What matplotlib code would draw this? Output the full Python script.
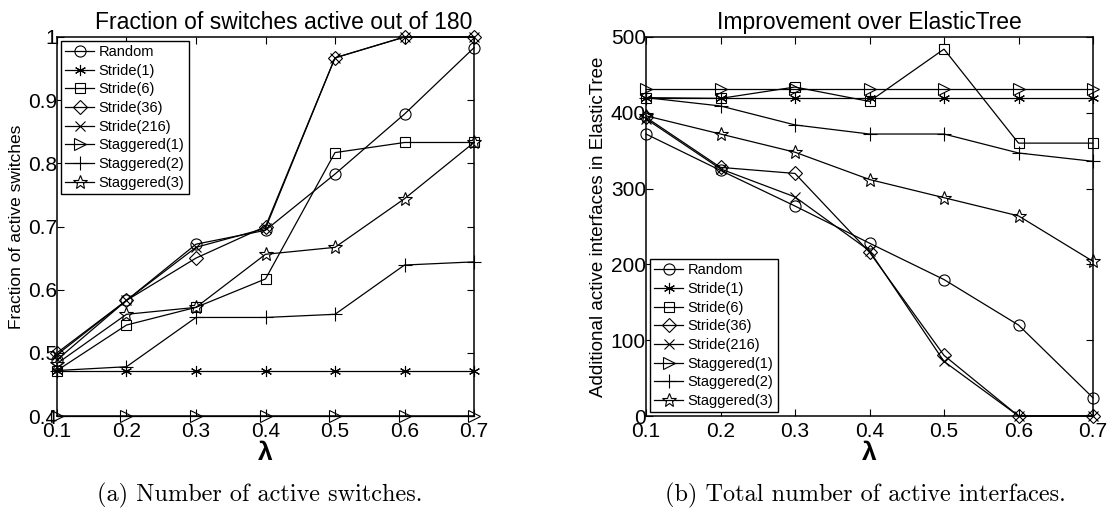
"""
Fraction of active switches and additional active interfaces vs lambda,
for several placement schemes (MATLAB-style two-panel figure).
"""
import numpy as np
import matplotlib
matplotlib.use("Agg")
import matplotlib.pyplot as plt

plt.rcParams["font.family"] = ["Liberation Sans", "DejaVu Sans"]

lam = [0.1, 0.2, 0.3, 0.4, 0.5, 0.6, 0.7]
labels = ["Random", "Stride(1)", "Stride(6)", "Stride(36)", "Stride(216)",
          "Staggered(1)", "Staggered(2)", "Staggered(3)"]

# (a) fraction of active switches out of 180
frac_random = [0.489, 0.583, 0.672, 0.694, 0.783, 0.878, 0.983]
frac_stride1 = [0.472, 0.472, 0.472, 0.472, 0.472, 0.472, 0.472]
frac_stride6 = [0.472, 0.544, 0.572, 0.617, 0.817, 0.833, 0.833]
frac_stride36 = [0.500, 0.583, 0.650, 0.700, 0.967, 1.000, 1.000]
frac_stride216 = [0.497, 0.583, 0.667, 0.697, 0.967, 1.000, 1.000]
frac_stag1 = [0.400, 0.400, 0.400, 0.400, 0.400, 0.400, 0.400]
frac_stag2 = [0.472, 0.478, 0.556, 0.556, 0.561, 0.639, 0.644]
frac_stag3 = [0.483, 0.561, 0.572, 0.656, 0.667, 0.744, 0.833]

# (b) additional active interfaces in ElasticTree
intf_random = [372, 324, 277, 228, 180, 120, 24]
intf_stride1 = [420, 420, 420, 420, 420, 420, 420]
intf_stride6 = [420, 419, 434, 415, 484, 360, 360]
intf_stride36 = [394, 328, 320, 216, 80, 0, 0]
intf_stride216 = [392, 326, 289, 218, 72, 0, 0]
intf_stag1 = [432, 432, 432, 432, 432, 432, 432]
intf_stag2 = [420, 409, 384, 372, 372, 347, 336]
intf_stag3 = [396, 372, 348, 312, 288, 264, 204]

markers = ["o", (6, 2, 0), "s", "D", "x", ">", "+", "*"]
msizes = [8, 8, 7, 7, 7, 9, 10, 10]

frac_series = [frac_random, frac_stride1, frac_stride6, frac_stride36,
               frac_stride216, frac_stag1, frac_stag2, frac_stag3]
intf_series = [intf_random, intf_stride1, intf_stride6, intf_stride36,
               intf_stride216, intf_stag1, intf_stag2, intf_stag3]

fig = plt.figure(figsize=(11.07, 5.23), dpi=100)
ax1 = fig.add_axes([57 / 1107, 107 / 523, 417 / 1107, 379 / 523])
ax2 = fig.add_axes([646 / 1107, 107 / 523, 447 / 1107, 379 / 523])


def draw(ax, series):
    for y, lab, m, ms in zip(series, labels, markers, msizes):
        ax.plot(lam, y, color="k", lw=0.9, marker=m, ms=ms,
                mfc="none", mec="k", mew=0.8, label=lab, clip_on=False)
    ax.set_xlim(0.1, 0.7)
    ax.set_xticks(lam)
    ax.set_xticklabels([f"{v:.1f}" for v in lam])
    ax.tick_params(direction="in", top=True, right=True, labelsize=15,
                   length=5, width=0.8)
    ax.tick_params(axis="x", pad=4)
    ax.tick_params(axis="y", pad=0)
    for s in ax.spines.values():
        s.set_linewidth(1.1)
    ax.set_xlabel("λ", fontsize=19, fontweight="bold", labelpad=0)


def legend(ax, loc):
    leg = ax.legend(loc=loc, fontsize=10.5, handlelength=2.0,
                    handletextpad=0.3, labelspacing=0.32, borderpad=0.3,
                    borderaxespad=0.25, fancybox=False, framealpha=1,
                    edgecolor="k")
    leg.get_frame().set_linewidth(1.0)


draw(ax1, frac_series)
ax1.set_ylim(0.4, 1.0)
ax1.set_yticks([0.4, 0.5, 0.6, 0.7, 0.8, 0.9, 1.0])
ax1.set_yticklabels(["0.4", "0.5", "0.6", "0.7", "0.8", "0.9", "1"])
ax1.set_ylabel("Fraction of active switches", fontsize=12.5, labelpad=3)
ax1.set_title("Fraction of switches active out of 180", fontsize=16.5,
              pad=6, x=0.544)
legend(ax1, "upper left")

draw(ax2, intf_series)
ax2.set_ylim(0, 500)
ax2.set_yticks([0, 100, 200, 300, 400, 500])
ax2.set_ylabel("Additional active interfaces in ElasticTree", fontsize=13.5,
               labelpad=3)
ax2.set_title("Improvement over ElasticTree", fontsize=16.5, pad=6)
legend(ax2, "lower left")

fig.text(260 / 1107, 1 - 495 / 523, "(a) Number of active switches.",
         ha="center", va="center", fontsize=17.5, family="cmr10")
fig.text(865 / 1107, 1 - 495 / 523, "(b) Total number of active interfaces.",
         ha="center", va="center", fontsize=17.5, family="cmr10")

fig.savefig("out.png", dpi=100)
